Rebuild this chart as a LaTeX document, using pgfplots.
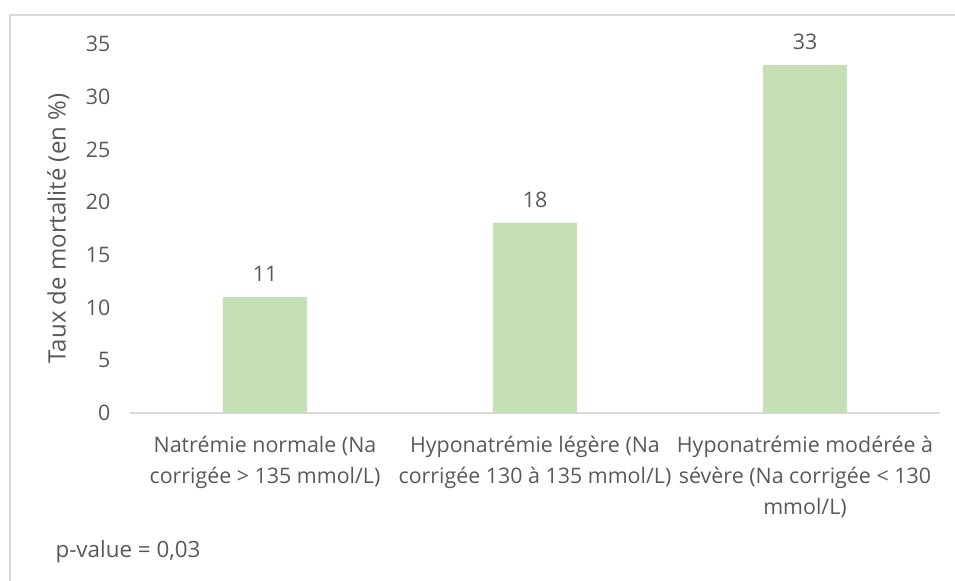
\documentclass[border=0pt]{standalone}
\usepackage{fontspec}
\setmainfont{Open Sans}
\usepackage{pgfplots}
\pgfplotsset{compat=1.18}
\definecolor{barfill}{HTML}{C5E0B4}
\definecolor{txt}{HTML}{595959}
\definecolor{rule}{HTML}{D9D9D9}
\begin{document}
\fontsize{10.7}{15.5}\selectfont
\begin{tikzpicture}
\useasboundingbox (-65pt,-84pt) rectangle (412.5pt,206.5pt);
\begin{axis}[
  at={(0,0)}, anchor=south west,
  scale only axis,
  width=405pt, height=184.5pt,
  ybar, bar width=42pt,
  xmin=-0.5, xmax=2.5,
  ymin=0, ymax=35,
  ytick={0,5,...,35},
  xtick=data,
  xticklabels={{Natrémie normale (Na\\corrigée > 135 mmol/L)},
               {Hyponatrémie légère (Na\\corrigée 130 à 135 mmol/L)},
               {Hyponatrémie modérée à\\sévère (Na corrigée < 130\\mmol/L)}},
  x tick label style={align=center, font=\fontsize{10.7}{15.5}\selectfont, text=txt, yshift=-8pt},
  y tick label style={font=\fontsize{10.7}{15.5}\selectfont, text=txt, xshift=-6pt},
  /pgf/number format/assume math mode=true,
  major tick length=0pt,
  axis x line*=bottom, axis y line*=left,
  x axis line style={draw=rule, line width=0.8pt, -},
  y axis line style={draw=none},
  ylabel={Taux de mortalité (en \%)},
  ylabel style={font=\fontsize{12}{14}\selectfont, text=txt, yshift=1pt},
  nodes near coords,
  nodes near coords style={font=\fontsize{10.7}{12}\selectfont, text=txt, yshift=4pt},
]
\addplot[fill=barfill, draw=none] coordinates {(0,11) (1,18) (2,33)};
\end{axis}
\draw[rule, line width=0.8pt] (-60pt,-84pt) -- (-60pt,199pt) -- (412.5pt,199pt);
\node[anchor=west, text=txt, font=\fontsize{11.2}{12}\selectfont] at (-41pt,-69.5pt) {p-value = 0,03};
\end{tikzpicture}
\end{document}
